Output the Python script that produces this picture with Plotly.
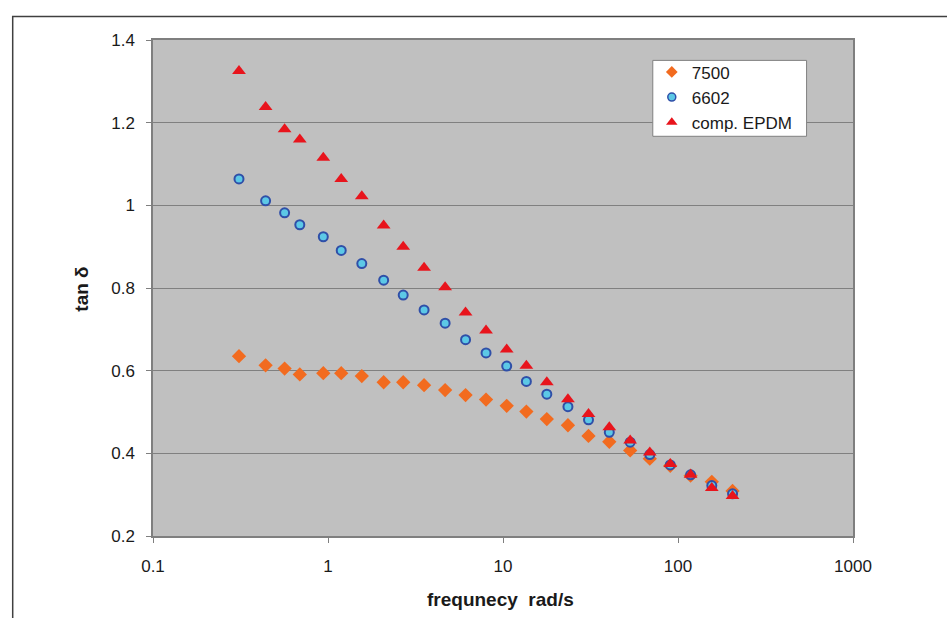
import plotly.graph_objects as go

freq = [0.31, 0.44, 0.565, 0.69, 0.94, 1.19, 1.56, 2.08, 2.69, 3.54, 4.67, 6.11, 8.0,
        10.5, 13.6, 17.8, 23.5, 30.8, 40.5, 53.3, 69.0, 90.3, 118, 156, 205]

tan_7500 = [0.635, 0.613, 0.605, 0.591, 0.594, 0.594, 0.587, 0.572, 0.572, 0.565, 0.553,
            0.541, 0.530, 0.515, 0.501, 0.483, 0.468, 0.442, 0.428, 0.407, 0.387, 0.370,
            0.346, 0.331, 0.309]
tan_6602 = [1.064, 1.011, 0.982, 0.953, 0.924, 0.891, 0.859, 0.819, 0.783, 0.747, 0.715,
            0.675, 0.643, 0.611, 0.574, 0.543, 0.513, 0.481, 0.451, 0.427, 0.397, 0.372,
            0.348, 0.322, 0.302]
tan_epdm = [1.325, 1.238, 1.184, 1.159, 1.115, 1.064, 1.022, 0.951, 0.900, 0.849, 0.802,
            0.741, 0.697, 0.651, 0.612, 0.572, 0.531, 0.495, 0.463, 0.431, 0.402, 0.374,
            0.348, 0.316, 0.297]

series_names = ["7500", "6602", "comp. EPDM"]

x_ticks = [0.1, 1, 10, 100, 1000]
x_tick_labels = ["0.1", "1", "10", "100", "1000"]
y_ticks = [0.2, 0.4, 0.6, 0.8, 1.0, 1.2, 1.4]
y_tick_labels = ["0.2", "0.4", "0.6", "0.8", "1", "1.2", "1.4"]

FONT = "Liberation Sans, Arial, sans-serif"

styles = [
    dict(symbol="diamond", color="#f26b1f", line=dict(width=0)),
    dict(symbol="circle", color="#5cc8e6", line=dict(width=2, color="#2f4fa8")),
    dict(symbol="triangle-up", color="#e8141c", line=dict(width=0)),
]
plot_sizes = [11, 9, 12]
legend_sizes = [9, 8, 10]
series_values = [tan_7500, tan_6602, tan_epdm]

fig = go.Figure()
for name, vals, st, ps in zip(series_names, series_values, styles, plot_sizes):
    fig.add_trace(go.Scatter(x=freq, y=vals, mode="markers", name=name, showlegend=False,
                             marker=dict(size=ps, **st)))
# legend entries (smaller symbols, like the reference legend)
for name, st, ls in zip(series_names, styles, legend_sizes):
    st2 = dict(st)
    if st2["symbol"] == "circle":
        st2["line"] = dict(width=1.5, color="#2f4fa8")
    fig.add_trace(go.Scatter(x=[None], y=[None], mode="markers", name=name, showlegend=True,
                             marker=dict(size=ls, **st2)))

W, H = 947, 618
L, R, T, B = 152.5, 93.5, 39.6, 81.8
pw = W - L - R
ph = H - T - B

fig.update_layout(
    width=W, height=H,
    margin=dict(l=L, r=R, t=T, b=B, pad=0),
    paper_bgcolor="white",
    plot_bgcolor="#c0c0c0",
    font=dict(family=FONT, size=17, color="#1a1a1a"),
    showlegend=True,
    legend=dict(
        x=(652 - L) / pw, y=1 - (54 - T) / ph,
        xanchor="left", yanchor="top",
        bgcolor="rgba(0,0,0,0)", borderwidth=0,
        font=dict(family=FONT, size=17, color="#1a1a1a"),
        itemsizing="trace", tracegroupgap=0, itemwidth=30,
    ),
    xaxis=dict(
        type="log", range=[-1, 3],
        tickvals=x_ticks, ticktext=x_tick_labels,
        showgrid=False, zeroline=False,
        showline=True, linecolor="#7f7f7f", linewidth=1.5, mirror=True,
        ticks="outside", ticklen=5, tickcolor="#7f7f7f", tickwidth=1,
        ticklabelstandoff=9,
        tickfont=dict(size=17),
    ),
    yaxis=dict(
        range=[0.2, 1.4],
        tickvals=y_ticks, ticktext=y_tick_labels,
        showgrid=True, gridcolor="#808080", gridwidth=1,
        zeroline=False,
        showline=True, linecolor="#7f7f7f", linewidth=1.5, mirror=True,
        ticks="outside", ticklen=5, tickcolor="#7f7f7f", tickwidth=1,
        ticklabelstandoff=8,
        tickfont=dict(size=17),
    ),
)

# outer frame (clipped by the page edge at right and bottom)
fig.add_shape(type="rect", xref="paper", yref="paper",
              x0=(12 - L) / pw, x1=(960 - L) / pw,
              y0=1 - (640 - T) / ph, y1=1 - (16 - T) / ph,
              line=dict(color="#404040", width=1.5), fillcolor="rgba(0,0,0,0)", layer="below")

# legend box
fig.add_shape(type="rect", xref="paper", yref="paper",
              x0=(653 - L) / pw, x1=(807 - L) / pw,
              y0=1 - (136 - T) / ph, y1=1 - (60 - T) / ph,
              line=dict(color="#808080", width=1), fillcolor="white", layer="above")

fig.add_annotation(text="<b>tan δ</b>", xref="paper", yref="paper",
                   x=(80 - L) / pw, y=1 - (289 - T) / ph, xanchor="center", yanchor="middle",
                   showarrow=False, textangle=-90,
                   font=dict(family=FONT, size=19, color="#1a1a1a"))
fig.add_annotation(text="<b>frequnecy  rad/s</b>", xref="paper", yref="paper",
                   x=(500 - L) / pw, y=1 - (600 - T) / ph, xanchor="center", yanchor="middle",
                   showarrow=False,
                   font=dict(family=FONT, size=19, color="#1a1a1a"))

fig.write_html("out.html")
